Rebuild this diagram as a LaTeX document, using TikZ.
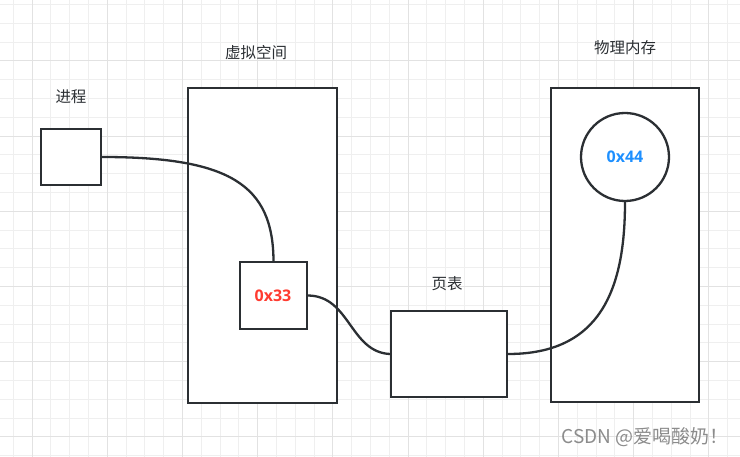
\documentclass[tikz,border=0pt]{standalone}
\usepackage{fontspec}
\setmainfont{Open Sans}
\newfontfamily\cjk{Noto Sans CJK SC}
\definecolor{ink}{HTML}{2B2F33}
\definecolor{gridminor}{HTML}{EFEFEF}
\definecolor{gridmajor}{HTML}{E2E2E2}
\definecolor{addrred}{HTML}{FF3B30}
\definecolor{addrblue}{HTML}{1E90FF}
\definecolor{wm}{HTML}{8C8C8C}
\begin{document}
\begin{tikzpicture}[x=1pt,y=-1pt,
  box/.style={draw=ink,line width=2.3pt,fill=white,rectangle,inner sep=0pt},
  circ/.style={draw=ink,line width=2.3pt,fill=white,circle,inner sep=0pt,minimum size=88pt},
  conn/.style={draw=ink,line width=2.3pt},
  lbl/.style={font=\cjk\fontsize{15.5}{18}\selectfont,text=ink},
  addr/.style={font=\bfseries\fontsize{16}{18}\selectfont}]
\useasboundingbox (0,0) rectangle (740,457);
\fill[white] (0,0) rectangle (740,457);
\foreach \i in {0,...,39} {
  \draw[gridminor,line width=1pt] ({13.2+18.8*\i},0) -- ({13.2+18.8*\i},457);
}
\foreach \i in {0,...,24} {
  \draw[gridminor,line width=1pt] (0,{4.6+18.8*\i}) -- (740,{4.6+18.8*\i});
}
\foreach \i in {0,...,9} {
  \draw[gridmajor,line width=1pt] ({32+75.2*\i},0) -- ({32+75.2*\i},457);
}
\foreach \i in {0,...,6} {
  \draw[gridmajor,line width=1pt] (0,{61-75.2+75.2*\i}) -- (740,{61-75.2+75.2*\i});
}

% containers
\node[box,minimum width=149pt,minimum height=315pt] (virt) at (262.5,245.5) {};
\node[box,minimum width=148pt,minimum height=314pt] (phys) at (625,245) {};

% nodes
\node[box,minimum width=60pt,minimum height=56pt] (proc) at (71,157) {};
\node[box,minimum width=67pt,minimum height=67pt] (v33) at (273.5,295.5) {};
\node[addr,text=addrred] (v33t) at (273,296) {0x33};
\node[box,minimum width=116pt,minimum height=86pt] (ptab) at (449,354) {};
\node[circ] (p44) at (625,157) {};
\node[addr,text=addrblue] (p44t) at (625,157) {0x44};

% labels
\node[lbl] (lproc) at (71,97) {进程};
\node[lbl] (lvirt) at (256,53) {虚拟空间};
\node[lbl] (lphys) at (625,48) {物理内存};
\node[lbl] (lptab) at (447,284) {页表};

% connectors
\draw[conn] (proc.east) .. controls (230,157) and (273,185) .. (v33.north);
\draw[conn] (v33.east) .. controls (350,296) and (350,352) .. (ptab.west);
\draw[conn] (ptab.east) .. controls (600,354) and (625,290) .. (p44.south);

% watermark
\node[font=\cjk\fontsize{19}{22}\selectfont,text=wm,anchor=east] (wmk) at (732,437) {CSDN @爱喝酸奶！};
\end{tikzpicture}
\end{document}
